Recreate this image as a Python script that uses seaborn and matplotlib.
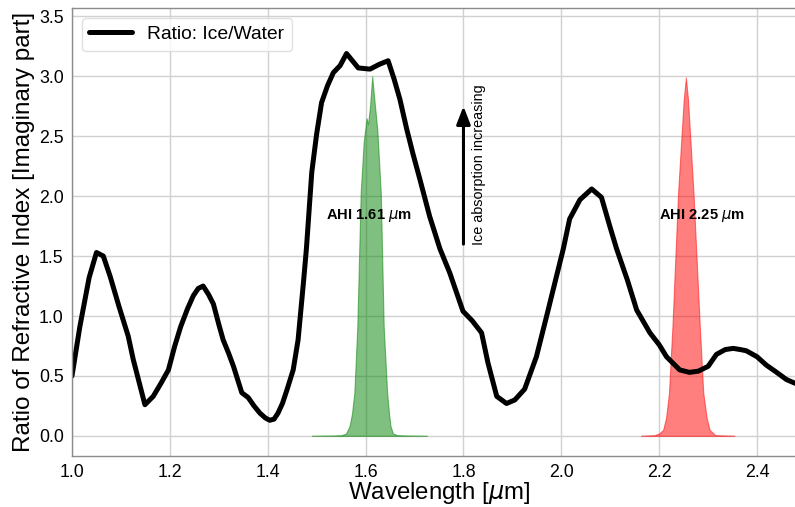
import numpy as np
import pandas as pd
import matplotlib
matplotlib.use("Agg")
import matplotlib.pyplot as plt
import seaborn as sns

# Ratio of imaginary refractive index (ice / water)
wl = [1.000, 1.016, 1.035, 1.050, 1.064, 1.078, 1.096, 1.115, 1.125, 1.137, 1.149,
      1.166, 1.182, 1.197, 1.210, 1.222, 1.236, 1.248, 1.258, 1.268, 1.279, 1.289,
      1.300, 1.309, 1.320, 1.330, 1.347, 1.360, 1.372, 1.384, 1.395, 1.404, 1.413,
      1.421, 1.430, 1.439, 1.452, 1.462, 1.473, 1.479, 1.490, 1.500, 1.510, 1.522,
      1.534, 1.548, 1.561, 1.573, 1.585, 1.609, 1.628, 1.646, 1.658, 1.670, 1.684,
      1.697, 1.711, 1.731, 1.752, 1.772, 1.799, 1.818, 1.837, 1.850, 1.868, 1.888,
      1.905, 1.925, 1.949, 1.970, 1.990, 2.004, 2.017, 2.038, 2.062, 2.082, 2.099,
      2.113, 2.135, 2.154, 2.181, 2.200, 2.215, 2.242, 2.262, 2.280, 2.300, 2.317,
      2.335, 2.351, 2.366, 2.378, 2.400, 2.419, 2.440, 2.460, 2.477, 2.500]
ratio = [0.50, 0.91, 1.32, 1.53, 1.50, 1.33, 1.08, 0.83, 0.64, 0.45, 0.26,
         0.33, 0.44, 0.55, 0.75, 0.91, 1.06, 1.17, 1.23, 1.25, 1.18, 1.10,
         0.93, 0.80, 0.69, 0.58, 0.36, 0.32, 0.25, 0.19, 0.15, 0.13, 0.14,
         0.19, 0.27, 0.38, 0.55, 0.80, 1.28, 1.56, 2.20, 2.52, 2.78, 2.92,
         3.03, 3.09, 3.19, 3.13, 3.07, 3.06, 3.10, 3.13, 2.98, 2.81, 2.56,
         2.35, 2.14, 1.83, 1.56, 1.36, 1.04, 0.96, 0.86, 0.61, 0.33, 0.27,
         0.30, 0.39, 0.66, 1.00, 1.33, 1.56, 1.81, 1.97, 2.06, 1.99, 1.75,
         1.56, 1.30, 1.05, 0.86, 0.76, 0.66, 0.55, 0.53, 0.54, 0.58, 0.68,
         0.72, 0.73, 0.72, 0.71, 0.66, 0.59, 0.53, 0.47, 0.44, 0.42]

# AHI 1.61 um spectral response (scaled)
b5_wl = [1.490, 1.530, 1.550, 1.560, 1.567, 1.572, 1.577, 1.583, 1.590, 1.596,
         1.602, 1.605, 1.609, 1.6135, 1.618, 1.624, 1.631, 1.637, 1.644, 1.648,
         1.651, 1.656, 1.665, 1.690, 1.725]
b5_rsp = [0.000, 0.002, 0.005, 0.020, 0.080, 0.180, 0.360, 0.910, 2.030, 2.450,
          2.650, 2.600, 2.750, 3.000, 2.800, 2.550, 2.030, 0.910, 0.360, 0.180,
          0.080, 0.020, 0.005, 0.002, 0.000]

# AHI 2.25 um spectral response (scaled)
b6_wl = [2.163, 2.190, 2.200, 2.208, 2.214, 2.220, 2.227, 2.2386, 2.2500, 2.2545,
         2.2590, 2.270, 2.283, 2.290, 2.297, 2.303, 2.315, 2.354]
b6_rsp = [0.000, 0.005, 0.020, 0.050, 0.150, 0.360, 0.910, 2.030, 2.800, 2.990,
          2.800, 2.030, 0.910, 0.360, 0.150, 0.050, 0.005, 0.000]

legend_label = "Ratio: Ice/Water"
band_labels = ["AHI 1.61 $\\mu$m", "AHI 2.25 $\\mu$m"]
arrow_text = "Ice absorption increasing"

sns.set_theme(style="whitegrid")
plt.rcParams["font.family"] = ["Liberation Sans", "DejaVu Sans"]
plt.rcParams["mathtext.fontset"] = "dejavusans"
for k in ["text.color", "axes.labelcolor", "xtick.labelcolor", "ytick.labelcolor"]:
    plt.rcParams[k] = "black"

fig = plt.figure(figsize=(7.95, 5.07), dpi=100)
ax = fig.add_axes([72 / 795, 1 - 456 / 507, (806 - 72) / 795, (456 - 8) / 507])

df = pd.DataFrame({"wl": wl, "ratio": ratio})
sns.lineplot(data=df, x="wl", y="ratio", ax=ax, color="black", lw=3.6,
             label=legend_label, sort=False)

ax.fill_between(b5_wl, b5_rsp, color="green", alpha=0.5, lw=0.8)
ax.fill_between(b6_wl, b6_rsp, color="red", alpha=0.5, lw=0.8)

ax.text(1.52, 1.84, band_labels[0], fontsize=10.6, fontweight="bold", va="center", ha="left")
ax.text(2.20, 1.84, band_labels[1], fontsize=10.6, fontweight="bold", va="center", ha="left")

ax.annotate("", xy=(1.8, 2.75), xytext=(1.8, 1.6),
            arrowprops=dict(arrowstyle="-|>,head_length=0.9,head_width=0.35",
                            color="black", lw=2.2, shrinkA=0, shrinkB=0))
ax.text(1.832, 2.26, arrow_text, rotation=90, fontsize=10.4, va="center", ha="center")

ax.set_xlim(1.0, 2.5)
ax.set_ylim(-0.168, 3.57)
ax.set_xticks([1.0, 1.2, 1.4, 1.6, 1.8, 2.0, 2.2, 2.4])
ax.set_yticks([0.0, 0.5, 1.0, 1.5, 2.0, 2.5, 3.0, 3.5])
ax.set_xlabel("Wavelength [$\\mu$m]", fontsize=17.3, labelpad=-1)
ax.set_ylabel("Ratio of Refractive Index [Imaginary part]", fontsize=17.5, labelpad=3)
ax.tick_params(axis="both", labelsize=12.8, length=3, color="0.55", pad=3)
for s in ax.spines.values():
    s.set_color("0.55")
    s.set_linewidth(1.0)
ax.grid(True, color="0.82", lw=1.0)

leg = ax.legend(loc="upper left", fontsize=13.9, frameon=True, handlelength=2.2)
leg.get_frame().set_edgecolor("0.85")

fig.savefig("out.png", dpi=100)
